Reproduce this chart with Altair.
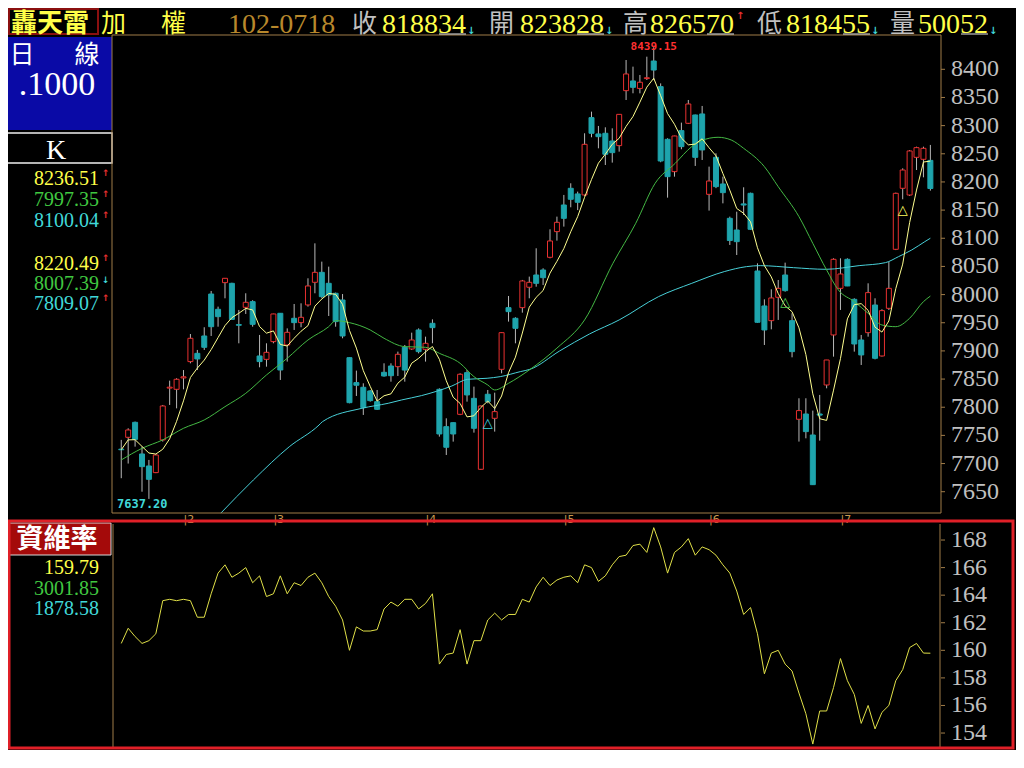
import altair as alt
import pandas as pd

# ---------------- data ----------------
candle_index = list(range(1, 119))
opens = [7725.5, 7746.6, 7773.2, 7717, 7695.7, 7683.9, 7741.9, 7834, 7831.8, 7852,
         7881, 7895.7, 7926.5, 8001, 7973.9, 8021.2, 8020, 7946.8, 7977.4, 7987.5,
         7891, 7885, 7916.5, 7966.8, 7910.5, 7957.9, 7950.2, 7981.6, 8021.8, 8039.5,
         8020, 8002.3, 7990.4, 7888, 7843.7, 7835.4, 7828.9, 7809.9, 7862, 7873.2,
         7872, 7906.4, 7903.4, 7937.2, 7902.8, 7949, 7831.8, 7765.5, 7772.6, 7787.4,
         7861.4, 7815.8, 7689.8, 7823, 7780.3, 7867.3, 7976.8, 7957.9, 7976.8, 8013,
         8034.8, 8043.7, 8066.2, 8111.8, 8159.1, 8188.7, 8178.7, 8176.9, 8314.2, 8285.2,
         8286.4, 8272.7, 8264.5, 8362.1, 8379.3, 8366, 8383.5, 8414.7, 8369.2, 8275.7,
         8218.3, 8291.1, 8304.1, 8318.9, 8320.7, 8178, 8243.7, 8196.4, 8135.4, 8114.7,
         8161, 8179.8, 8041.9, 7979.8, 7953.7, 7995.2, 8034.8, 7953.7, 7778.6, 7788,
         7750.7, 7788, 7839.5, 7928.3, 8011.1, 8062.6, 7991.6, 7919.4, 7932.4, 7981.5,
         7891, 7975.6, 8080.4, 8188.7, 8176.8, 8243.7, 8240.2, 8238.28]
highs = [7742, 7762.6, 7774.5, 7730, 7706.4, 7717, 7804, 7847.2, 7851.4, 7866,
         7930, 7901.7, 7942, 8006.4, 7978.6, 8029.5, 8021, 7972.7, 8002.3, 7990,
         7928.3, 7913.5, 7966, 7967, 7940, 7983.3, 7984.5, 8028.9, 8091, 8058.5,
         8049.6, 8003.5, 8001, 7888.5, 7865, 7842.5, 7830.6, 7830.6, 7878, 7878,
         7898.7, 7910.5, 7932.4, 7940, 7925.3, 7956, 7833.6, 7780.3, 7773, 7860.2,
         7866.1, 7836.6, 7803, 7830.6, 7825.9, 7933, 7997.5, 7959.7, 8026, 8031.9,
         8082.2, 8046.7, 8115.9, 8138.4, 8176.9, 8197.6, 8182.8, 8286.4, 8324.8, 8299.4,
         8297, 8295.2, 8320.5, 8416.5, 8404.7, 8389.9, 8422.4, 8439.15, 8375, 8277.5,
         8282, 8305.3, 8345.5, 8319.5, 8334.9, 8227.2, 8250.8, 8209.4, 8138.4, 8147.2,
         8190.5, 8181, 8055.5, 7991.6, 8009.4, 8025.9, 8056.7, 7966.8, 7815.9, 7815.9,
         7794, 7821.8, 7884, 8064.4, 8064.4, 8064.4, 7993.4, 7928.3, 8020, 7993.4,
         7973.9, 8058.5, 8181, 8224.2, 8256.7, 8262.6, 8262.6, 8265.70]
lows = [7674, 7700, 7730, 7650, 7637.2, 7683, 7739, 7804, 7798, 7831.8,
        7878, 7866, 7901.7, 7926.5, 7943, 7993.4, 7954.9, 7913.5, 7965.6, 7943,
        7870.9, 7872, 7913.5, 7848.4, 7881, 7937.2, 7942, 7978.6, 8002.3, 7993.4,
        7962, 7943, 7922.4, 7807, 7820, 7786.3, 7809.9, 7795.1, 7854.3, 7845.4,
        7855.5, 7845.4, 7901.7, 7895.7, 7881, 7913.5, 7747.8, 7715.2, 7738.9, 7786,
        7809.9, 7754.9, 7688.6, 7807, 7756.7, 7860.2, 7952, 7913.5, 7967.9, 7993.4,
        8014, 8017, 8064.4, 8095.8, 8120.7, 8155, 8150, 8175.1, 8279.3, 8259.7,
        8230.1, 8234.3, 8253.8, 8345.5, 8357.4, 8357.3, 8381, 8381, 8235, 8172.1,
        8209.4, 8258, 8302.9, 8228.4, 8239, 8149.1, 8189, 8162, 8088.1, 8070.3,
        8141.3, 8115, 7950, 7910.5, 7938.3, 7955, 8005.2, 7888.6, 7739, 7744.8,
        7662, 7740.7, 7833.6, 7889.8, 7972.7, 8015, 7898.7, 7875, 7925.3, 7885,
        7890, 7972.7, 8079, 8169.2, 8175, 8221.2, 8208.2, 8184.55]
closes = [7724.5, 7759.6, 7743, 7694.5, 7672, 7715.2, 7802.2, 7835.6, 7849.6, 7854,
          7922.4, 7885.7, 7906.4, 7943, 7960.8, 8028.9, 7956, 7945.5, 7986.3, 7947.2,
          7881, 7897.5, 7965.6, 7866.1, 7933, 7950.2, 7959.7, 8015.3, 8039.5, 7996.3,
          7999.3, 7952, 7926.5, 7808.1, 7839, 7799.3, 7811.7, 7796.3, 7855.5, 7856,
          7894, 7866, 7919.4, 7898.7, 7913.5, 7941.3, 7752.5, 7728.9, 7752.5, 7858.5,
          7821.8, 7762.6, 7802.2, 7810, 7792.2, 7932.4, 7969.7, 7940.1, 8024.2, 8021.8,
          8020, 8030, 8095.2, 8128.3, 8135.4, 8169.2, 8163.9, 8266.8, 8286.4, 8280.4,
          8249.1, 8252, 8320, 8391.7, 8368, 8377, 8385, 8398.7, 8237.2, 8209.4,
          8281.6, 8262.7, 8338.4, 8243.7, 8256.8, 8201.7, 8191.7, 8181, 8096, 8094,
          8159, 8115.9, 7950.8, 7937.2, 7994, 8011.1, 8007, 7898.7, 7794, 7756.7,
          7662.5, 7786, 7883.9, 8062.6, 8036.6, 8015.3, 7912.3, 7892.8, 8003.5, 7886.9,
          7971.5, 8011.1, 8179.8, 8221.2, 8255, 8260.9, 8259.7, 8188.34]

ma20_index = [1, 4, 7, 10, 13, 16, 19, 22, 25, 28, 31, 32, 34, 37, 39, 42, 45, 47, 50, 52,
              54, 55, 57, 60, 64, 68, 72.1, 75.4, 78.2, 81.1, 83.5, 84.9, 87.3, 89.2, 91, 94,
              96, 99, 101, 103, 104.7, 107, 109, 111, 113, 115, 117, 118]
ma20_value = [7706.4, 7727, 7742, 7762.6, 7777.4, 7801, 7824.7, 7857.3, 7886.9, 7919.4,
              7943, 7953.7, 7950.2, 7937.2, 7922.4, 7907.6, 7906.4, 7895.7, 7878, 7854.3,
              7839.5, 7830.6, 7842.5, 7866.1, 7905, 7955, 8055.6, 8126.6, 8197.6, 8233,
              8262.7, 8273.3, 8279.3, 8274.5, 8259.7, 8227.1, 8191.6, 8138.4, 8091, 8043.7,
              8008.2, 7987.5, 7966.8, 7946, 7943, 7957.9, 7987.5, 7997.35]

ma60_index = [15.4, 20.1, 25.3, 29.6, 30.1, 35.8, 39.6, 41.5, 44.4, 48.8, 51.1, 53.9,
              55.8, 58.7, 60.1, 64.4, 68.7, 73, 78.7, 83.5, 88.2, 91.4, 93.4, 98.2,
              102.9, 107.7, 111.5, 113.4, 115.3, 117.2, 118]
ma60_value = [7612, 7670.8, 7729.9, 7768.4, 7774.4, 7798.1, 7807, 7812.8, 7820.6, 7837.7,
              7849.6, 7851.4, 7854.3, 7863.2, 7867.3, 7900, 7930, 7955, 7996.4, 8020,
              8040.8, 8049.6, 8051.4, 8047.8, 8044.9, 8051.4, 8056.7, 8067.4, 8079.2,
              8094, 8100.04]

ratio = [160.5, 161.6, 161.0, 160.5, 160.7, 161.2, 163.6, 163.7, 163.6, 163.7,
         163.6, 162.4, 162.4, 164.1, 165.6, 166.2, 165.3, 165.6, 166.0, 164.9,
         165.4, 163.9, 164.1, 165.4, 164.1, 164.9, 164.7, 165.3, 165.6, 164.9,
         163.9, 163.2, 162.2, 160.0, 161.7, 161.4, 161.4, 161.5, 163.0, 163.5,
         163.2, 163.7, 163.7, 163.0, 163.4, 164.1, 159.0, 159.7, 159.8, 161.5,
         159.0, 160.7, 160.7, 162.2, 162.7, 162.2, 162.6, 162.6, 163.7, 163.5,
         164.6, 165.3, 164.7, 165.1, 165.3, 165.4, 164.9, 166.2, 166.0, 165.0,
         165.4, 166.2, 166.8, 166.9, 167.6, 167.7, 167.1, 168.9, 167.5, 165.6,
         167.1, 167.5, 168.1, 166.9, 167.5, 167.3, 166.9, 166.2, 165.6, 164.3,
         162.6, 163.1, 161.2, 158.3, 159.8, 160.0, 159.0, 158.5, 156.9, 155.4,
         153.2, 155.6, 155.6, 157.3, 159.4, 157.8, 156.8, 154.7, 156.0, 154.3,
         155.5, 156.0, 157.8, 158.6, 160.2, 160.5, 159.8, 159.79]

price_ticks = [7650, 7700, 7750, 7800, 7850, 7900, 7950, 8000, 8050, 8100,
               8150, 8200, 8250, 8300, 8350, 8400]
ratio_ticks = [154, 156, 158, 160, 162, 164, 166, 168]

month_index = [10, 23, 45, 65, 86, 105]
month_label = ["|2", "|3", "|4", "|5", "|6", "|7"]

signal_index = [54, 97, 114]
signal_price = [7771.5, 7987.5, 8151]
signal_color = ["#40d8e0", "#50d050", "#ffff60"]

peak_index = [78]
peak_text = ["8439.15"]

# header quote: label and value (last two digits are the decimals, underlined)
quote_labels = ["收", "開", "高", "低", "量"]
quote_values = ["818834", "823828", "826570", "818455", "50052"]

# ---------------- layout constants ----------------
W, H = 827, 715
OX, OY = 113, 35
BLACK = "#000000"
YEL = "#ffff48"
GOLD = "#b8882c"
GRAY = "#c0c0c0"
GREEN = "#40c840"
CYAN = "#40d8d8"
RED = "#e83030"
TEAL = "#1ea4ac"
WICK = "#b8b8b8"
FRAME = "#a07c48"
CJK = "Liberation Serif, 'Noto Sans CJK TC'"
SERIF = "Liberation Serif"

xS = alt.Scale(domain=[0.5286, 118.671], nice=False, zero=False)
yP = alt.Scale(domain=[7191.4, 8460.9], nice=False, zero=False)
yR = alt.Scale(domain=[152.77, 204.63], nice=False, zero=False)
X = alt.X("i:Q", scale=xS, axis=None)

one = pd.DataFrame({"k": [0]})


def T(text, px, py, color, size, font=SERIF, align="left", weight="normal"):
    return alt.Chart(one).mark_text(
        text=text, align=align, baseline="alphabetic", font=font,
        fontSize=size, color=color, fontWeight=weight
    ).encode(x=alt.value(px - OX), y=alt.value(py - OY))


def R(x1, y1, x2, y2, fill="transparent", stroke="transparent", sw=1):
    return alt.Chart(one).mark_rect(fill=fill, stroke=stroke, strokeWidth=sw).encode(
        x=alt.value(x1 - OX), x2=alt.value(x2 - OX),
        y=alt.value(y1 - OY), y2=alt.value(y2 - OY))


def L(x1, y1, x2, y2, color, sw=1):
    return alt.Chart(one).mark_rule(color=color, strokeWidth=sw).encode(
        x=alt.value(x1 - OX), x2=alt.value(x2 - OX),
        y=alt.value(y1 - OY), y2=alt.value(y2 - OY))


cdf = pd.DataFrame({"i": candle_index, "o": opens, "h": highs, "l": lows, "c": closes})

wick = alt.Chart(cdf).mark_rule(color=WICK, strokeWidth=1).encode(
    x=X, y=alt.Y("l:Q", scale=yP, axis=None), y2="h:Q")
up = alt.Chart(cdf).transform_filter("datum.c >= datum.o").mark_bar(
    width=5, fill=BLACK, stroke=RED, strokeWidth=1).encode(
    x=X, y=alt.Y("o:Q", scale=yP, axis=None), y2="c:Q")
down = alt.Chart(cdf).transform_filter("datum.c < datum.o").mark_bar(
    width=5, fill=TEAL, stroke=TEAL, strokeWidth=1).encode(
    x=X, y=alt.Y("o:Q", scale=yP, axis=None), y2="c:Q")
ma5 = alt.Chart(cdf).transform_window(
    ma5="mean(c)", frame=[-4, 0], sort=[alt.SortField("i", order="ascending")]
).mark_line(color="#ffff90", strokeWidth=1).encode(
    x=X, y=alt.Y("ma5:Q", scale=yP, axis=None))
ma20 = alt.Chart(pd.DataFrame({"i": ma20_index, "v": ma20_value})).mark_line(
    color="#44b844", strokeWidth=1, interpolate="monotone").encode(
    x=X, y=alt.Y("v:Q", scale=yP, axis=None))
ma60 = alt.Chart(pd.DataFrame({"i": ma60_index, "v": ma60_value})).mark_line(
    color="#48d0d8", strokeWidth=1, interpolate="monotone").encode(
    x=X, y=alt.Y("v:Q", scale=yP, axis=None))
sig = alt.Chart(pd.DataFrame({"i": signal_index, "p": signal_price, "col": signal_color})).mark_text(
    text="△", font="DejaVu Sans", fontSize=13, baseline="middle").encode(
    x=X, y=alt.Y("p:Q", scale=yP, axis=None), color=alt.Color("col:N", scale=None))
peak = alt.Chart(pd.DataFrame({"i": peak_index, "t": peak_text})).mark_text(
    font="DejaVu Sans Mono", fontSize=11, fontWeight="bold", color="#ff3030",
    baseline="alphabetic").encode(x=X, y=alt.value(15), text="t:N")
months = alt.Chart(pd.DataFrame({"i": month_index, "t": month_label})).mark_text(
    font="DejaVu Sans", fontSize=11, color="#c89850", align="left",
    baseline="top").encode(x=X, y=alt.value(479), text="t:N")

ptick_df = pd.DataFrame({"v": price_ticks})
ptick = alt.Chart(ptick_df).mark_rule(color=FRAME).encode(
    x=alt.value(828), x2=alt.value(832), y=alt.Y("v:Q", scale=yP, axis=None))
plab = alt.Chart(ptick_df).mark_text(
    font=SERIF, fontSize=24, color=GRAY, align="left", baseline="middle").encode(
    x=alt.value(838), y=alt.Y("v:Q", scale=yP, axis=None), text=alt.Text("v:Q", format="d"))

price_group = alt.layer(wick, up, down, ma60, ma20, ma5, sig, peak, ptick, plab)

rdf = pd.DataFrame({"i": candle_index, "r": ratio})
rline = alt.Chart(rdf).mark_line(color="#e0e048", strokeWidth=1).encode(
    x=X, y=alt.Y("r:Q", scale=yR, axis=None))
rtick_df = pd.DataFrame({"v": ratio_ticks})
rtick = alt.Chart(rtick_df).mark_rule(color=FRAME).encode(
    x=alt.value(828), x2=alt.value(832), y=alt.Y("v:Q", scale=yR, axis=None))
rlab = alt.Chart(rtick_df).mark_text(
    font=SERIF, fontSize=24, color=GRAY, align="left", baseline="middle").encode(
    x=alt.value(838), y=alt.Y("v:Q", scale=yR, axis=None), text=alt.Text("v:Q", format="d"))
ratio_group = alt.layer(rline, rtick, rlab)

backdrop = [
    R(0, 37, 112, 130, fill="#0a0aa6"),
    R(1, 133, 112, 163, fill=BLACK, stroke="#f0f0f0", sw=1.5),
    R(3, 523, 111, 555, fill="#a40a0a", stroke="#d8d8d8", sw=1),
]

# header quote positions (page px)
HB = 33           # digits baseline
HS = 28           # digits size
dw = HS / 2.0     # digit advance in Liberation Serif
label_x = [352, 489, 623, 757, 890]
value_x = [382, 520, 650, 786, 918]
arrow_up = [False, False, True, False, False]

header = [
    R(9, 9, 98, 34, stroke="#8b1010", sw=2),
    T("轟天雷", 11, 32, YEL, 26, font=CJK, weight="bold"),
    T("加", 101, 32, YEL, 25, font=CJK),
    T("權", 161, 32, YEL, 25, font=CJK),
    T("102-0718", 228, HB, GOLD, HS),
]
for lab, lx, val, vx, upa in zip(quote_labels, label_x, quote_values, value_x, arrow_up):
    header.append(T(lab, lx, 32, GRAY, 25, font=CJK))
    header.append(T(val, vx, HB, YEL, HS))
    end = vx + dw * len(val)
    header.append(L(end - 2 * dw + 1, 34, end, 34, "#e8e8e8"))
    if upa:
        header.append(T("↑", end + 2, 19, RED, 10, font="DejaVu Sans", weight="bold"))
    else:
        header.append(T("↓", end + 1, 34, CYAN, 10, font="DejaVu Sans", weight="bold"))

overlay = [
    # plot frames
    R(112, 35, 941, 513, stroke=FRAME, sw=1),
    L(113, 524, 113, 747, FRAME),
    L(940, 524, 940, 747, FRAME),
    months,
    R(9, 521, 1013, 748, stroke="#e02028", sw=3),
] + header + [
    # left info panel
    T("日", 22, 63, "#ffffff", 25, font=CJK, align="center"),
    T("線", 87, 63, "#ffffff", 25, font=CJK, align="center"),
    T(".1000", 57, 95, "#ffffff", 34, align="center"),
    T("K", 56, 159, "#ffffff", 28, align="center"),
    T("8236.51", 99, 185, YEL, 20, align="right"),
    T("7997.35", 99, 206, GREEN, 20, align="right"),
    T("8100.04", 99, 227, CYAN, 20, align="right"),
    T("8220.49", 99, 270, YEL, 20, align="right"),
    T("8007.39", 99, 290, GREEN, 20, align="right"),
    T("7809.07", 99, 310, CYAN, 20, align="right"),
    T("↑", 102, 176, RED, 9, font="DejaVu Sans", weight="bold"),
    T("↑", 102, 197, RED, 9, font="DejaVu Sans", weight="bold"),
    T("↑", 102, 218, RED, 9, font="DejaVu Sans", weight="bold"),
    T("↑", 102, 261, RED, 9, font="DejaVu Sans", weight="bold"),
    T("↓", 102, 283, CYAN, 9, font="DejaVu Sans", weight="bold"),
    T("↑", 102, 301, RED, 9, font="DejaVu Sans", weight="bold"),
    T("7637.20", 117, 508, CYAN, 12, font="DejaVu Sans Mono", weight="bold"),
    # lower panel info
    T("資維率", 57, 548, "#ffffff", 27, font=CJK, align="center", weight="bold"),
    T("159.79", 99, 574, YEL, 20, align="right"),
    T("3001.85", 99, 595, GREEN, 20, align="right"),
    T("1878.58", 99, 615, CYAN, 20, align="right"),
]

chart = alt.layer(*backdrop, price_group, ratio_group, *overlay).resolve_scale(
    y="independent"
).properties(
    width=W, height=H,
    autosize=alt.AutoSizeParams(type="none"),
    padding={"left": 105, "top": 27, "right": 76, "bottom": 0},
    background=BLACK,
).configure_view(stroke="transparent")

chart.save("out.html", embed_options={"renderer": "svg", "actions": False})
